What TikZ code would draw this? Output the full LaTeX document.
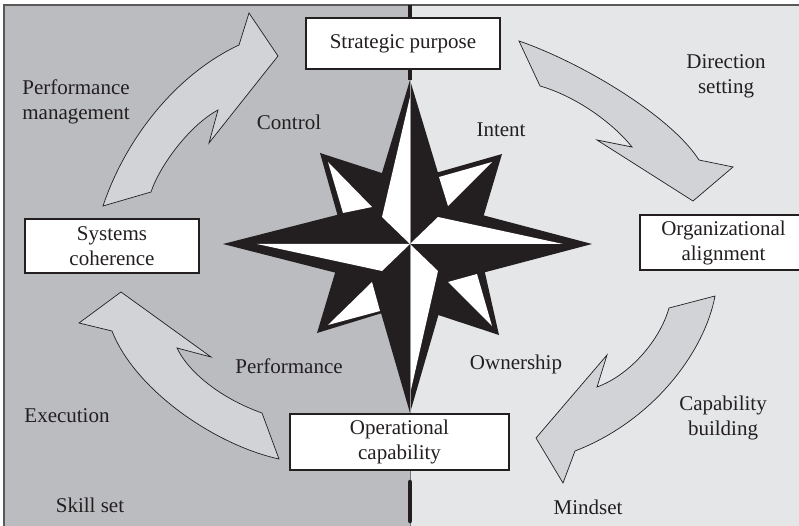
\documentclass[tikz,border=0pt]{standalone}
\usepackage{fontspec}
\setmainfont{Liberation Serif}
\usepackage{tikz}
\usetikzlibrary{positioning}
\definecolor{leftgray}{RGB}{187,188,192}
\definecolor{rightgray}{RGB}{229,230,232}
\definecolor{arrowgray}{RGB}{210,211,214}
\definecolor{ink}{RGB}{35,31,32}

\begin{document}
\begin{tikzpicture}[x=1pt,y=-1pt,
   every node/.style={font=\fontsize{21}{25}\selectfont,text=ink,align=center,inner sep=0pt},
   box/.style={draw=ink,fill=white,line width=1.3pt},
   flow/.style={draw=ink,fill=arrowgray,line width=0.7pt,line join=miter},
   axis/.style={ink,line width=4.5pt,line cap=round}]
  \useasboundingbox (0,0) rectangle (799,526);
  % two halves and frame
  \fill[leftgray] (4,5) rectangle (410,526);
  \fill[rightgray] (410,5) rectangle (799,526);
  \draw[black!65,line width=1.8pt] (4,526) -- (4,5) -- (799,5);
  \coordinate (top) at (410,5);
  \coordinate (bot) at (410,526);
  \draw[black!55,line width=0.6pt] (top) -- (bot);

  % curved arrows
  \draw[flow] (103,206) .. controls (125,140) and (175,75) .. (239,45) -- (249,13) -- (278,56)
     -- (209,143) -- (218,110) .. controls (190,125) and (160,165) .. (151,192) -- cycle;
  \draw[flow] (519,41) .. controls (580,62) and (670,115) .. (699,160) -- (733,167) -- (693,201)
     -- (597,140) -- (632,147) .. controls (612,122) and (575,96) .. (540,86) -- cycle;
  \draw[flow] (715,296) .. controls (705,350) and (655,420) .. (575,451) -- (563,483) -- (536,438)
     -- (607,355) -- (597,387) .. controls (630,375) and (660,340) .. (669,308) -- cycle;
  \draw[flow] (279,459) .. controls (215,445) and (135,390) .. (112,331) -- (79,323) -- (121,292)
     -- (211,357) -- (177,348) .. controls (190,375) and (225,400) .. (262,413) -- cycle;

  % compass star
  \coordinate (c) at (410,244);
  \coordinate (ntip) at (410,80);
  \coordinate (stip) at (410,413);
  \foreach \tx/\ty/\px/\py/\qx/\qy in {320/153/391/176/340/224,502/154/425/176/480/228,
                                        499/335/483/264/423/310,317/333/392/310/338/263}
    \fill[ink] (\tx,\ty) -- (\px,\py) -- (c) -- (\qx,\qy) -- cycle;
  \fill[ink] (ntip) -- (448,206) -- (592,244) -- (448,282) -- (stip) -- (372,282) -- (223,244) -- (372,206) -- cycle;
  \foreach \tx/\ty/\px/\py/\qx/\qy in {328/162/372/207/343/213,492/162/448/206/439/177,
                                        492/326/448/282/477/274,328/325/372/282/380/311}
    \fill[white] (\tx,\ty) -- (\px,\py) -- (\qx,\qy) -- cycle;
  \foreach \ax/\ay/\bx/\by in {410/97/382/217,438/217/563/244,438/271/410/394,382/271/257/244}
    \fill[white] (c) -- (\ax,\ay) -- (\bx,\by) -- cycle;
  \draw[black!40,line width=0.5pt] (ntip) -- (stip);

  % boxes
  \node[box,minimum width=194pt,minimum height=51pt] (purpose) at (403,43.5) {Strategic purpose};
  \node[box,minimum width=167pt,minimum height=55pt] (align) at (723.5,242.5) {Organizational\\alignment};
  \node[box,minimum width=219pt,minimum height=56pt] (oper) at (399.5,442) {Operational\\capability};
  \node[box,minimum width=174pt,minimum height=54pt] (systems) at (112,246) {Systems\\coherence};

  % thick axis pieces
  \draw[axis,line cap=butt] (top) -- (top |- purpose.north);
  \draw[axis,line cap=butt] (top |- purpose.south) -- (ntip);
  \coordinate (b1) at (410,482);
  \coordinate (b2) at (410,521);
  \draw[axis] (b1) -- (b2);

  % labels
  \node (pm) at (76,102) {Performance\\management};
  \node (ds) at (726,76) {Direction\\setting};
  \node (cb) at (723,417.5) {Capability\\building};
  \node[anchor=base] (control) at (289,130) {Control};
  \node[anchor=base] (intent) at (501,136.7) {Intent};
  \node[anchor=base] (perf) at (289,373) {Performance};
  \node[anchor=base] (owner) at (516,369) {Ownership};
  \node[anchor=base] (exec) at (67,422.7) {Execution};
  \node[anchor=base] (skill) at (90,512) {Skill set};
  \node[anchor=base] (mind) at (588,514) {Mindset};
\end{tikzpicture}
\end{document}
